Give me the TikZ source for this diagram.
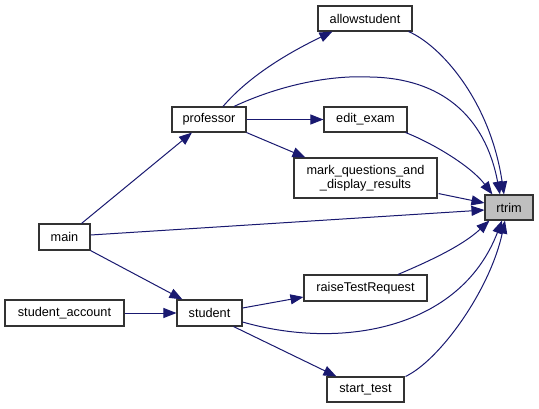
\documentclass[tikz,border=0pt]{standalone}
\usepackage{fontspec}
\setmainfont{Liberation Sans}
\usetikzlibrary{arrows.meta,calc}
\definecolor{edgeblue}{HTML}{191970}
\definecolor{nodeborder}{HTML}{333333}
\definecolor{hlgray}{HTML}{BFBFBF}
\tikzset{
  fn/.style={draw=nodeborder, line width=1.1pt, fill=white, inner sep=0pt,
    minimum height=25pt, font=\fontsize{12.7}{13.5}\selectfont, align=center},
  call/.style={draw=edgeblue, line width=1pt,
    -{Triangle[length=13pt,width=10pt]}, fill=none},
}
\begin{document}
\begin{tikzpicture}[x=1pt,y=-1pt]
\useasboundingbox (0,0) rectangle (539,408);
\fill[white] (0,0) rectangle (539,408);
% nodes
\node[fn, minimum width=94pt] (allow) at (365,18.5) {allowstudent};
\node[fn, minimum width=74pt] (prof) at (209,119.5) {professor};
\node[fn, minimum width=83pt] (edit) at (365.5,119.5) {edit\_exam};
\node[fn, minimum width=143pt, minimum height=40pt] (mark) at (365.5,178) {mark\_questions\_and\\\_display\_results};
\node[fn, minimum width=48pt, fill=hlgray] (rtrim) at (509,207.5) {rtrim};
\node[fn, minimum width=51pt, minimum height=26pt] (main) at (64.5,237) {main};
\node[fn, minimum width=119pt, minimum height=26pt] (sacc) at (64.5,313) {student\_account};
\node[fn, minimum width=65pt, minimum height=26pt] (stud) at (209.5,313) {student};
\node[fn, minimum width=123pt, minimum height=26pt] (raise) at (365.5,288) {raiseTestRequest};
\node[fn, minimum width=77pt] (start) at (365.5,389.5) {start\_test};
% edges
\draw[call] ($(prof.north)+(14,0)$) .. controls (250,75) and (290,52) .. ($(allow.south west)+(15,0)$);
\draw[call] ($(allow.south east)+(-4,0)$) .. controls (440,45) and (490,100) .. ($(rtrim.north)+(-5,0)$);
\draw[call] ($(prof.north)+(25,0)$) .. controls (280,85) and (330,75) .. (370,77)
   .. controls (440,78) and (485,115) .. ($(rtrim.north)+(-9,0)$);
\draw[call] (prof.east) -- (edit.west);
\draw[call] ($(edit.south east)+(-2,0)$) .. controls (430,142) and (470,165) .. ($(rtrim.north west)+(8,0)$);
\draw[call] (prof.south east) -- ($(mark.north west)+(12,0)$);
\draw[call] ($(mark.south east)+(1,-5)$) -- ($(rtrim.west)+(0,-4.5)$);
\draw[call] ($(main.east)+(0,-2)$) -- ($(rtrim.west)+(0,2.5)$);
\draw[call] ($(main.north)+(17,0)$) -- ($(prof.south)+(-17,0)$);
\draw[call] (main.south east) -- ($(stud.north west)+(6,0)$);
\draw[call] (sacc.east) -- (stud.west);
\draw[call] ($(stud.east)+(0,-5)$) -- ($(raise.west)+(0,9)$);
\draw[call] ($(raise.north)+(32.5,0)$) .. controls (420,265) and (460,248) .. ($(rtrim.south west)+(5,0)$);
\draw[call] ($(stud.east)+(0,9)$) .. controls (340,350) and (460,330) .. ($(rtrim.south)+(-7,0)$);
\draw[call] ($(stud.south east)+(-9,0)$) -- ($(start.north west)+(10,0)$);
\draw[call] ($(start.north east)+(1,0)$) .. controls (440,360) and (490,290) .. ($(rtrim.south)+(-4,0)$);
\end{tikzpicture}
\end{document}
